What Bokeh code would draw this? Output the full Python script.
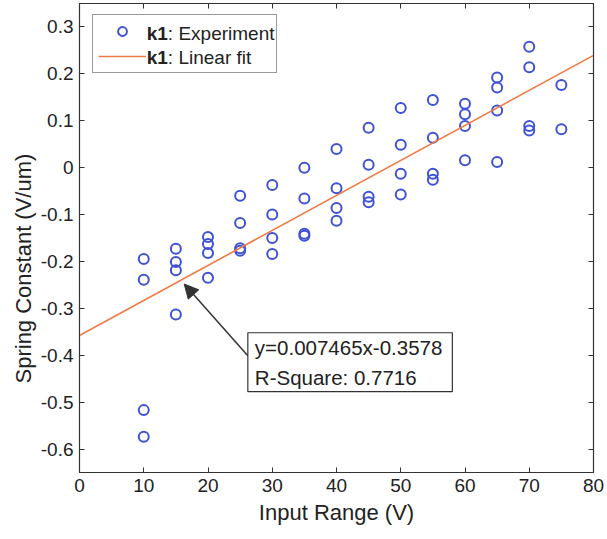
from bokeh.plotting import figure
from bokeh.models import (Range1d, LinearAxis, FixedTicker, Label, Arrow, Title,
                          NormalHead, Legend, LegendItem, ColumnDataSource)
from bokeh.embed import file_html
from bokeh.resources import INLINE

# Measured spring constant k1 at each input range
input_range = [10, 10, 10, 10,
               15, 15, 15, 15,
               20, 20, 20, 20,
               25, 25, 25, 25,
               30, 30, 30, 30,
               35, 35, 35, 35,
               40, 40, 40, 40,
               45, 45, 45, 45,
               50, 50, 50, 50,
               55, 55, 55, 55,
               60, 60, 60, 60,
               65, 65, 65, 65,
               70, 70, 70, 70,
               75, 75]
spring_constant = [-0.195, -0.239, -0.517, -0.574,
                   -0.173, -0.201, -0.219, -0.313,
                   -0.148, -0.163, -0.182, -0.235,
                   -0.060, -0.118, -0.172, -0.177,
                   -0.037, -0.100, -0.150, -0.184,
                   0.000, -0.066, -0.141, -0.145,
                   0.040, -0.044, -0.086, -0.113,
                   0.085, 0.006, -0.062, -0.074,
                   0.127, 0.049, -0.013, -0.057,
                   0.144, 0.064, -0.013, -0.026,
                   0.136, 0.114, 0.089, 0.016,
                   0.192, 0.171, 0.122, 0.012,
                   0.258, 0.214, 0.089, 0.079,
                   0.176, 0.082]

# Linear fit parameters
fit_slope = 0.007465
fit_intercept = -0.3578
r_square = 0.7716

x_limits = [0, 80]
y_limits = [-0.65, 0.35]
x_ticks = [0, 10, 20, 30, 40, 50, 60, 70, 80]
y_ticks = [-0.6, -0.5, -0.4, -0.3, -0.2, -0.1, 0.0, 0.1, 0.2, 0.3]
y_tick_labels = ["-0.6", "-0.5", "-0.4", "-0.3", "-0.2", "-0.1", "0", "0.1", "0.2", "0.3"]

fit_x = list(x_limits)
fit_y = [fit_slope * v + fit_intercept for v in fit_x]

FONT = "Liberation Sans"
TEXT = "#222222"
AXIS = "#333333"
BLUE = "#3f52d4"
ORANGE = "#f07a45"

p = figure(width=607, height=539, output_backend="svg", toolbar_location=None,
           x_range=Range1d(*x_limits), y_range=Range1d(*y_limits),
           min_border_left=79, min_border_right=14, min_border_top=3,
           min_border_bottom=67, background_fill_color="white",
           border_fill_color="white", outline_line_color=AXIS,
           outline_line_width=1.2)
p.grid.visible = False

for ax in (p.xaxis[0], p.yaxis[0]):
    ax.major_tick_in = 5
    ax.major_tick_out = 0
    ax.minor_tick_in = 0
    ax.minor_tick_out = 0
    ax.axis_line_color = AXIS
    ax.major_tick_line_color = AXIS
    ax.major_label_text_font = FONT
    ax.major_label_text_font_size = "19px"
    ax.major_label_text_color = TEXT
    ax.axis_label_text_font = FONT
    ax.axis_label_text_font_size = "22px"
    ax.axis_label_text_font_style = "normal"
    ax.axis_label_text_color = TEXT

p.xaxis[0].ticker = FixedTicker(ticks=x_ticks)
p.yaxis[0].ticker = FixedTicker(ticks=y_ticks)
p.yaxis[0].major_label_overrides = {t: s for t, s in zip(y_ticks, y_tick_labels)}
p.xaxis[0].axis_label = "Input Range (V)"
p.xaxis[0].major_label_standoff = 6
p.yaxis[0].major_label_standoff = 6
p.xaxis[0].axis_label_standoff = 5

# Y title as a side title; trailing no-break spaces lower it a little
p.add_layout(Title(text="Spring Constant (V/um)" + "\u00a0" * 10, align="center",
                   text_font=FONT, text_font_size="22px", text_font_style="normal",
                   text_color=TEXT, standoff=4), "left")

# Tick marks on the top and right edges of the box (no labels there)
for side, ticks in (("above", x_ticks), ("right", y_ticks)):
    ax = LinearAxis(ticker=FixedTicker(ticks=ticks), major_tick_in=5,
                    major_tick_out=0, minor_tick_in=0, minor_tick_out=0,
                    major_label_overrides={t: "" for t in ticks},
                    major_label_text_font_size="1px", major_label_standoff=0,
                    axis_line_color=AXIS, major_tick_line_color=AXIS)
    p.add_layout(ax, side)

src = ColumnDataSource(dict(x=input_range, y=spring_constant))
pts = p.scatter("x", "y", source=src, marker="circle", size=10,
                fill_color=None, line_color=BLUE, line_width=2)
fit = p.line(fit_x, fit_y, line_color=ORANGE, line_width=1.6)

legend = Legend(items=[LegendItem(label=" ", renderers=[pts]),
                       LegendItem(label=" ", renderers=[fit])],
                location=(13, 399), padding=5, spacing=3, margin=0,
                glyph_width=48, glyph_height=22, label_standoff=3,
                label_width=122, border_line_color=AXIS, border_line_width=1.2,
                background_fill_alpha=0.0)
p.add_layout(legend)

# Legend texts: bold series tag followed by the description
legend_rows = [("k1", ": Experiment", 0.287), ("k1", ": Linear fit", 0.234)]
for tag, desc, yrow in legend_rows:
    p.add_layout(Label(x=10.45, y=yrow, text=tag, text_font=FONT,
                       text_font_size="19px", text_font_style="bold",
                       text_color=TEXT, text_baseline="middle"))
    p.add_layout(Label(x=13.75, y=yrow, text=desc, text_font=FONT,
                       text_font_size="19px", text_color=TEXT,
                       text_baseline="middle"))

# Annotation pointing at the fit line
tip_x = 16.3
tip_y = fit_slope * tip_x + fit_intercept - 0.012
box_x, box_y = 26.2, -0.352
p.add_layout(Arrow(x_start=box_x, y_start=-0.401, x_end=tip_x, y_end=tip_y,
                   line_color=AXIS, line_width=1.5,
                   end=NormalHead(size=14, fill_color=AXIS, line_color=AXIS)))
p.add_layout(Label(x=box_x, y=box_y,
                   text=f"y={fit_slope}x{fit_intercept}\nR-Square: {r_square}",
                   text_font=FONT, text_font_size="20.5px", text_color=TEXT,
                   text_line_height=1.3,
                   anchor="top_left", border_line_color=AXIS, border_line_width=1.2,
                   background_fill_color="white",
                   padding=dict(left=7, right=10, top=3, bottom=3)))

open("out.html", "w").write(file_html(p, INLINE))
